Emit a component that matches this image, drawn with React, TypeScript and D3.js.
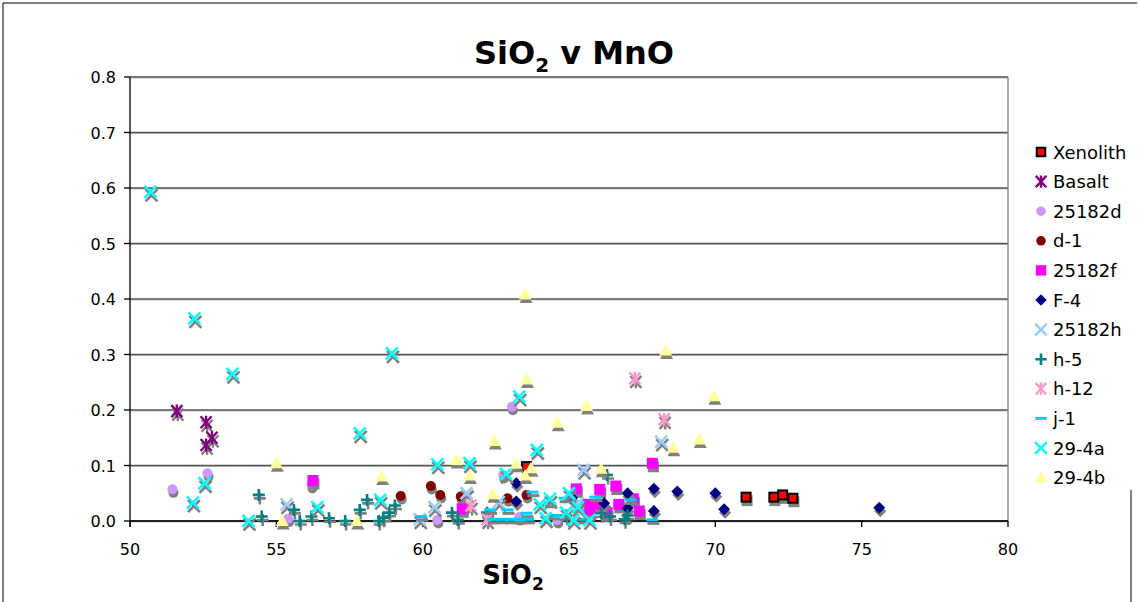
import React from "react";
import * as d3 from "d3";

const W = 1138, H = 602;
const M = { left: 130, right: 1008, top: 77, bottom: 521 };

const xTicks = [50, 55, 60, 65, 70, 75, 80];
const yTicks = [0, 0.1, 0.2, 0.3, 0.4, 0.5, 0.6, 0.7, 0.8];

const xenolith = [[63.55, 0.098], [71.05, 0.043], [72.0, 0.043], [72.3, 0.047], [72.65, 0.041]];
const basalt = [[51.6, 0.198], [52.6, 0.178], [52.6, 0.137], [52.8, 0.15]];
const s25182d = [[51.45, 0.057], [52.65, 0.086], [56.2, 0.065], [55.4, 0.004], [60.5, 0.002], [62.75, 0.083], [63.05, 0.206], [63.3, 0.007], [64.6, 0.002]];
const d1 = [[59.25, 0.045], [60.28, 0.063], [60.6, 0.047], [61.3, 0.044], [62.9, 0.041], [63.55, 0.047]];
const s25182f = [[56.25, 0.073], [61.35, 0.022], [65.25, 0.058], [65.6, 0.03], [65.95, 0.03], [66.05, 0.057], [66.6, 0.063], [66.7, 0.03], [67.2, 0.04], [67.4, 0.018], [67.85, 0.104], [66.3, 0.015], [65.7, 0.02]];
const f4 = [[63.2, 0.068], [63.2, 0.035], [65.1, 0.042], [66.2, 0.032], [67.0, 0.05], [67.0, 0.023], [67.9, 0.058], [67.9, 0.018], [68.7, 0.053], [70.0, 0.05], [70.3, 0.021], [75.6, 0.024]];
const s25182h = [[55.35, 0.03], [59.9, 0.003], [60.4, 0.025], [61.5, 0.05], [62.6, 0.034], [65.3, 0.032], [65.5, 0.092], [68.15, 0.143]];
const h5 = [[54.4, 0.047], [54.5, 0.008], [55.6, 0.02], [55.8, 0.0], [56.2, 0.008], [56.8, 0.005], [57.35, 0.0], [57.85, 0.02], [58.1, 0.038], [58.5, 0.0], [58.65, 0.006], [58.85, 0.015], [59.05, 0.028], [61.0, 0.015], [61.2, 0.002], [62.2, 0.015], [64.9, 0.01], [66.1, 0.014], [66.3, 0.083], [66.4, 0.008], [66.9, 0.003], [67.0, 0.01]];
const h12 = [[61.65, 0.028], [62.2, 0.003], [67.25, 0.257], [68.25, 0.183]];
const j1 = [[59.95, 0.008], [62.3, 0.02], [62.4, 0.003], [62.7, 0.003], [63.0, 0.003], [63.3, 0.003], [63.6, 0.003], [62.9, 0.02], [63.55, 0.014], [63.75, 0.052], [64.35, 0.032], [64.5, 0.01], [64.85, 0.041], [65.5, 0.003], [65.9, 0.043], [67.1, 0.038], [67.85, 0.002]];
const a294 = [[50.7, 0.593], [52.15, 0.033], [52.2, 0.365], [52.55, 0.068], [53.5, 0.265], [54.05, 0.0], [56.4, 0.025], [57.85, 0.158], [58.55, 0.038], [58.95, 0.302], [60.5, 0.102], [61.6, 0.104], [62.85, 0.085], [63.3, 0.224], [63.9, 0.128], [64.0, 0.03], [64.35, 0.04], [64.2, 0.005], [64.9, 0.015], [65.0, 0.05], [65.15, 0.002], [65.3, 0.025], [65.7, 0.002]];
const b294 = [[55.0, 0.104], [55.2, 0.0], [57.75, 0.0], [58.6, 0.08], [61.15, 0.11], [61.6, 0.082], [62.45, 0.144], [62.4, 0.048], [63.2, 0.103], [63.5, 0.408], [63.55, 0.255], [63.7, 0.095], [63.5, 0.082], [64.6, 0.177], [65.6, 0.207], [66.1, 0.094], [68.3, 0.307], [68.55, 0.132], [69.45, 0.147], [69.95, 0.225]];

type Shape = "xsq" | "ast" | "circ" | "sq" | "dia" | "x" | "plus" | "dash" | "tri";
const seriesNames = ["Xenolith", "Basalt", "25182d", "d-1", "25182f", "F-4", "25182h", "h-5", "h-12", "j-1", "29-4a", "29-4b"];
const seriesData = [xenolith, basalt, s25182d, d1, s25182f, f4, s25182h, h5, h12, j1, a294, b294];
const seriesShapes: Shape[] = ["xsq", "ast", "circ", "circ", "sq", "dia", "x", "plus", "ast", "dash", "x", "tri"];
const seriesColors = ["#FF0000", "#800080", "#CC99FF", "#800000", "#FF00FF", "#000080", "#99CCFF", "#008080", "#FF99CC", "#00CCFF", "#00FFFF", "#FFFF99"];

const FONT = "Verdana, 'DejaVu Sans', sans-serif";

function Marker({ shape, color, cx, cy, shadow, s = 1 }: { shape: Shape; color: string; cx: number; cy: number; shadow?: boolean; s?: number }) {
  const c = shadow ? "#808080" : color;
  const t = `translate(${cx},${cy})`;
  switch (shape) {
    case "xsq":
      return <rect transform={t} x={-4.5 * s} y={-4.5 * s} width={9 * s} height={9 * s} fill={shadow ? "#808080" : color} stroke={shadow ? "#808080" : "#000"} strokeWidth={2} />;
    case "sq":
      return <rect transform={t} x={-5.5 * s} y={-5.5 * s} width={11 * s} height={11 * s} fill={c} />;
    case "circ":
      return <circle transform={t} r={5 * s} fill={c} />;
    case "dia":
      return <path transform={t} d={`M0,${-6 * s}L${6 * s},0L0,${6 * s}L${-6 * s},0Z`} fill={c} />;
    case "tri":
      return <path transform={t} d={`M0,${-6.5 * s}L${6.5 * s},${5 * s}L${-6.5 * s},${5 * s}Z`} fill={c} />;
    case "x":
      return <path transform={t} d={`M${-6 * s},${-6 * s}L${6 * s},${6 * s}M${6 * s},${-6 * s}L${-6 * s},${6 * s}`} stroke={c} strokeWidth={2.6} fill="none" />;
    case "plus":
      return <path transform={t} d={`M${-6 * s},0L${6 * s},0M0,${-6 * s}L0,${6 * s}`} stroke={c} strokeWidth={2.6} fill="none" />;
    case "ast":
      return <path transform={t} d={`M${-5.5 * s},${-6 * s}L${5.5 * s},${6 * s}M${5.5 * s},${-6 * s}L${-5.5 * s},${6 * s}M0,${-6.5 * s}L0,${6.5 * s}`} stroke={c} strokeWidth={2.4} fill="none" />;
    case "dash":
      return <rect transform={t} x={-6 * s} y={-1.5} width={12 * s} height={3} fill={c} />;
  }
  return null;
}

export default function App() {
  const x = d3.scaleLinear().domain([50, 80]).range([M.left, M.right]);
  const y = d3.scaleLinear().domain([0, 0.8]).range([M.bottom, M.top]);

  return (
    <svg width={W} height={H} style={{ position: "absolute", left: 0, top: 0, background: "#fff" }} fontFamily={FONT}>
      <rect x={0} y={0} width={W} height={H} fill="#fff" />
      <path d={`M3,${H + 2}L3,3L1137,3`} fill="none" stroke="#000" strokeWidth={1} />
      <line x1={1131} x2={1131} y1={490} y2={H} stroke="#000" strokeWidth={1} />
      {/* gridlines */}
      {yTicks.map((v) => (
        <g key={"g" + v}>
          <line x1={M.left} x2={M.right} y1={y(v) + 1} y2={y(v) + 1} stroke="#c0c0c0" strokeWidth={1} />
          <line x1={M.left} x2={M.right} y1={y(v)} y2={y(v)} stroke="#555" strokeWidth={1.3} />
        </g>
      ))}
      <line x1={M.right} x2={M.right} y1={M.top} y2={M.bottom} stroke="#808080" strokeWidth={1.3} />
      {/* axes */}
      <line x1={M.left} x2={M.left} y1={M.top} y2={M.bottom + 6} stroke="#000" strokeWidth={1.3} />
      <line x1={M.left} x2={M.right} y1={M.bottom} y2={M.bottom} stroke="#000" strokeWidth={1.3} />
      {yTicks.map((v) => (
        <g key={"yt" + v}>
          <line x1={M.left - 6} x2={M.left} y1={y(v)} y2={y(v)} stroke="#000" strokeWidth={1.3} />
          <text x={M.left - 14} y={y(v) + 6} textAnchor="end" fontSize={16} fill="#000">{v.toFixed(1)}</text>
        </g>
      ))}
      {xTicks.map((v) => (
        <g key={"xt" + v}>
          <line x1={x(v)} x2={x(v)} y1={M.bottom} y2={M.bottom + 6} stroke="#000" strokeWidth={1.3} />
          <text x={x(v)} y={M.bottom + 34} textAnchor="middle" fontSize={16} fill="#000">{v}</text>
        </g>
      ))}
      {/* title */}
      <text x={574} y={64} textAnchor="middle" fontSize={32} fontWeight="bold" fill="#000">
        SiO<tspan fontSize={20} dy={8}>2</tspan><tspan dy={-8}> v MnO</tspan>
      </text>
      <text x={513} y={584} textAnchor="middle" fontSize={26} fontWeight="bold" fill="#000">
        SiO<tspan fontSize={17} dy={6}>2</tspan>
      </text>
      {/* series */}
      {seriesData.map((data, si) => (
        <g key={"s" + si}>
          {data.map((p, i) => (
            <Marker key={"sh" + i} shape={seriesShapes[si]} color={seriesColors[si]} cx={x(p[0]) + 1} cy={y(p[1]) + 3.5} shadow />
          ))}
          {data.map((p, i) => (
            <Marker key={"m" + i} shape={seriesShapes[si]} color={seriesColors[si]} cx={x(p[0])} cy={y(p[1])} />
          ))}
        </g>
      ))}
      {/* legend */}
      {seriesNames.map((n, i) => {
        const ly = 152 + i * 29.6;
        return (
          <g key={"l" + n}>
            <Marker shape={seriesShapes[i]} color={seriesColors[i]} cx={1041} cy={ly} s={0.95} />
            <text x={1053} y={ly + 6.5} fontSize={18} fill="#000">{n}</text>
          </g>
        );
      })}
    </svg>
  );
}
